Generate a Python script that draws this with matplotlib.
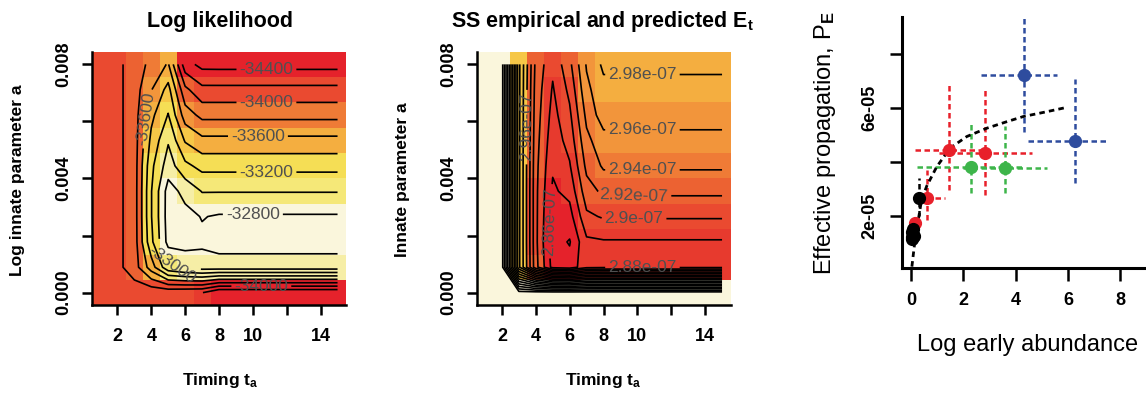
import numpy as np
import matplotlib
matplotlib.use('Agg')
import matplotlib.pyplot as plt
from matplotlib.colors import ListedColormap, BoundaryNorm

plt.rcParams['font.family'] = ['Liberation Sans', 'DejaVu Sans']
plt.rcParams['font.weight'] = 'bold'
plt.rcParams['mathtext.fontset'] = 'custom'
plt.rcParams['mathtext.rm'] = 'Liberation Sans'
plt.rcParams['mathtext.bf'] = 'Liberation Sans:bold'
plt.rcParams['mathtext.it'] = 'Liberation Sans:italic'

W, H = 1146, 396

# grid of the two likelihood surfaces
timing = [1, 2, 3, 4, 5, 6, 7, 8, 9, 10, 11, 12, 13, 14, 15]
innate = [0.0, 0.000889, 0.001778, 0.002667, 0.003556,
          0.004444, 0.005333, 0.006222, 0.007111, 0.008]

# log likelihood, rows from innate = 0.008 (top) down to 0
loglik_rows = [
    [-34100, -34050, -33900, -33750, -33580, -34320, -34460] + [-34463] * 8,
    [-34100, -34050, -33900, -33610, -33330, -33950, -34146] + [-34146] * 8,
    [-34100, -34050, -33900, -33450, -33190, -33700, -33854] + [-33854] * 8,
    [-34100, -34050, -33900, -33350, -33020, -33420, -33548] + [-33548] * 8,
    [-34100, -34050, -33900, -33250, -32900, -33150, -33263] + [-33263] * 8,
    [-34100, -34050, -33900, -33210, -32715, -32860, -33010] + [-33010] * 8,
    [-34100, -34050, -33900, -33210, -32710, -32740, -32810] + [-32780] * 8,
    [-34100, -34050, -33900, -33250, -32730, -32720, -32760] + [-32717] * 8,
    [-34100, -34050, -33900, -33500, -33050, -32950, -32900] + [-32894] * 8,
    [-34100, -34050, -34100, -34150, -34150, -34170, -34190] + [-34380] * 8,
]

# sum of squares (x 1e-07), rows from innate = 0.008 down to 0
ss_rows = [
    [3.21, 3.21, 3.005, 2.915, 2.884, 2.915, 2.962] + [2.984] * 8,
    [3.21, 3.21, 3.005, 2.912, 2.878, 2.905, 2.955] + [2.974] * 8,
    [3.21, 3.21, 3.005, 2.910, 2.873, 2.896, 2.945] + [2.971] * 8,
    [3.21, 3.21, 3.005, 2.908, 2.868, 2.888, 2.935] + [2.952] * 8,
    [3.21, 3.21, 3.005, 2.906, 2.8625, 2.878, 2.925] + [2.943] * 8,
    [3.21, 3.21, 3.005, 2.905, 2.857, 2.866, 2.912] + [2.924] * 8,
    [3.21, 3.21, 3.005, 2.905, 2.852, 2.852, 2.896] + [2.902] * 8,
    [3.21, 3.21, 3.005, 2.905, 2.848, 2.8385, 2.876] + [2.878] * 8,
    [3.21, 3.21, 3.005, 2.907, 2.853, 2.848, 2.874] + [2.876] * 8,
    [3.21] * 15,
]

# right panel: log early abundance vs effective propagation
red_x = [1.45, 2.84, 0.60, 0.13]
red_y = [4.43e-5, 4.31e-5, 2.64e-5, 1.74e-5]
red_xlo = [0.13, 1.07, 0.22, 0.08]
red_xhi = [2.77, 4.61, 1.30, 0.20]
red_ylo = [2.95e-5, 2.77e-5, 1.84e-5, 1.60e-5]
red_yhi = [6.84e-5, 6.66e-5, 3.69e-5, 1.90e-5]

green_x = [2.29, 3.59]
green_y = [3.81e-5, 3.75e-5]
green_xlo = [0.24, 1.99]
green_xhi = [4.34, 5.19]
green_ylo = [2.85e-5, 2.85e-5]
green_yhi = [5.42e-5, 5.33e-5]

blue_x = [4.32, 6.27]
blue_y = [7.21e-5, 4.78e-5]
blue_xlo = [2.68, 4.49]
blue_xhi = [5.60, 7.51]
blue_ylo = [5.11e-5, 3.22e-5]
blue_yhi = [9.35e-5, 7.06e-5]

black_x = [0.32]
black_y = [2.64e-5]
black_xlo = [0.12]
black_xhi = [0.50]
black_ylo = [1.98e-5]
black_yhi = [3.38e-5]

cluster_x = [0.02, 0.04, 0.06, 0.08, 0.10, 0.05]
cluster_y = [1.15e-5, 1.40e-5, 1.30e-5, 1.50e-5, 1.25e-5, 1.20e-5]

fit_x = [0.03, 0.15, 0.40, 0.60, 0.98, 1.49, 2.13, 2.90, 3.66, 4.29, 5.19, 5.95]
fit_y = [0.11e-5, 1.10e-5, 2.58e-5, 3.10e-5, 3.81e-5, 4.50e-5, 4.93e-5,
         5.24e-5, 5.48e-5, 5.67e-5, 5.85e-5, 6.01e-5]

heat = ['#E5222B', '#E73A2E', '#EA4A30', '#EC6232', '#EF7B36', '#F2953B',
        '#F4AE40', '#F6C747', '#F5DE55', '#F5E878', '#F6EEA6', '#FAF6DC']

fig = plt.figure(figsize=(W / 100, H / 100), dpi=100)


def px_axes(l, t, r, b):
    return fig.add_axes([l / W, 1 - b / H, (r - l) / W, (b - t) / H])


def ftext(x, y, s, **kw):
    fig.text(x / W, 1 - y / H, s, ha='center', va='center', **kw)


def heatmap(ax, z, levels, bounds, fmt, label_pos):
    cmap = ListedColormap(heat)
    norm = BoundaryNorm(bounds, cmap.N)
    ax.pcolormesh(timing, innate, z, cmap=cmap, norm=norm, shading='nearest')
    cs = ax.contour(timing, innate, z, levels=levels, colors='black',
                    linewidths=1.2, negative_linestyles='solid')
    texts = ax.clabel(cs, fmt=fmt, manual=label_pos, inline=True, inline_spacing=3,
                      fontsize=12.5, colors='#505050')
    for t in texts:
        t.set_fontweight('normal')
    for s in ['top', 'right']:
        ax.spines[s].set_visible(False)
    for s in ['left', 'bottom']:
        ax.spines[s].set_linewidth(1.8)
    ax.set_xlim(0.5, 15.5)
    ax.set_ylim(-0.000444, 0.008444)
    ax.set_xticks([2, 4, 6, 8, 10, 12, 14])
    ax.set_xticklabels(['2', '4', '6', '8', '10', '', '14'])
    ax.set_yticks([0, 0.002, 0.004, 0.006, 0.008])
    ax.set_yticklabels(['0.000', '', '0.004', '', '0.008'])
    ax.tick_params(direction='out', length=7, width=1.8, labelsize=13)
    ax.tick_params(axis='x', pad=9)
    ax.tick_params(axis='y', pad=7, labelrotation=90)
    for lbl in ax.get_yticklabels():
        lbl.set_va('center')


# ---- panel 1: log likelihood
ax1 = px_axes(92, 51.7, 346, 305.3)
z1 = np.flipud(np.array(loglik_rows, dtype=float))
lv1 = np.arange(-34400, -32799, 200)
heatmap(ax1, z1, lv1, np.linspace(z1.min(), z1.max(), 13),
        lambda v: f'{v:.0f}',
        [(10.8, 0.0078), (10.8, 0.00666), (10.3, 0.00548), (10.8, 0.00421),
         (10.0, 0.00273), (3.6, 0.0061), (5.3, 0.0011), (10.5, 0.00022)])
ftext(220, 21, 'Log likelihood', fontsize=15.5)
ftext(18, 180, 'Log innate parameter a', fontsize=12.5, rotation=90)
ftext(220, 381, r'Timing $\mathbf{t_a}$', fontsize=12.5)

# ---- panel 2: sum of squares
ax2 = px_axes(476.5, 51.7, 730.5, 305.3)
z2 = np.flipud(np.array(ss_rows, dtype=float)) * 1e-7
lv2 = np.round(np.arange(2.84, 3.205, 0.02), 2) * 1e-7
heatmap(ax2, z2, lv2, np.linspace(z2.min(), 3.108e-7, 13),
        lambda v: f'{v:.3g}',
        [(10.3, 0.00764), (10.3, 0.0057), (10.3, 0.0043), (9.8, 0.0034),
         (9.8, 0.0026), (10.3, 0.0009), (3.45, 0.0058), (4.85, 0.0025)])
ftext(603, 21, r'SS empirical and predicted $\mathbf{E_t}$', fontsize=15.5)
ftext(402, 180, 'Innate parameter a', fontsize=12.5, rotation=90)
ftext(603, 381, r'Timing $\mathbf{t_a}$', fontsize=12.5)

# ---- panel 3: effective propagation
ax3 = px_axes(901.7, 16.7, 1146, 268)
ax3.set_xlim(-0.36, 8.99)
ax3.set_ylim(0.06e-5, 9.37e-5)
ax3.plot(fit_x, fit_y, color='black', lw=2, ls=(0, (2.0, 1.5)), zorder=3)


def group(x, y, xlo, xhi, ylo, yhi, color):
    x, y = np.array(x), np.array(y)
    eb = ax3.errorbar(x, y, xerr=[x - np.array(xlo), np.array(xhi) - x],
                      yerr=[y - np.array(ylo), np.array(yhi) - y],
                      fmt='none', ecolor=color, elinewidth=1.8, capsize=0, zorder=2)
    for lc in eb[2]:
        lc.set_linestyle((0, (2.2, 1.4)))
    ax3.plot(x, y, 'o', color=color, ms=8.5, zorder=5)


group(red_x, red_y, red_xlo, red_xhi, red_ylo, red_yhi, '#E8202A')
group(green_x, green_y, green_xlo, green_xhi, green_ylo, green_yhi, '#3DB54A')
group(blue_x, blue_y, blue_xlo, blue_xhi, blue_ylo, blue_yhi, '#2E4C9E')
group(black_x, black_y, black_xlo, black_xhi, black_ylo, black_yhi, 'black')
ax3.plot(cluster_x, cluster_y, 'o', color='black', ms=8.5, zorder=5)

for s in ['top', 'right']:
    ax3.spines[s].set_visible(False)
for s in ['left', 'bottom']:
    ax3.spines[s].set_linewidth(2.2)
ax3.set_xticks([0, 2, 4, 6, 8])
ax3.set_yticks([2e-5, 4e-5, 6e-5, 8e-5])
ax3.set_yticklabels(['2e-05', '', '6e-05', ''])
ax3.tick_params(direction='out', length=9, width=1.8, labelsize=13)
ax3.tick_params(axis='x', pad=8)
ax3.tick_params(axis='y', pad=8, labelrotation=90)
for lbl in ax3.get_yticklabels():
    lbl.set_va('center')
ftext(1028, 345, 'Log early abundance', fontsize=17, weight='normal')
ftext(825, 143, r'Effective propagation, P$_\mathrm{E}$', fontsize=17,
      weight='normal', rotation=90)

fig.savefig('out.png', dpi=100)
